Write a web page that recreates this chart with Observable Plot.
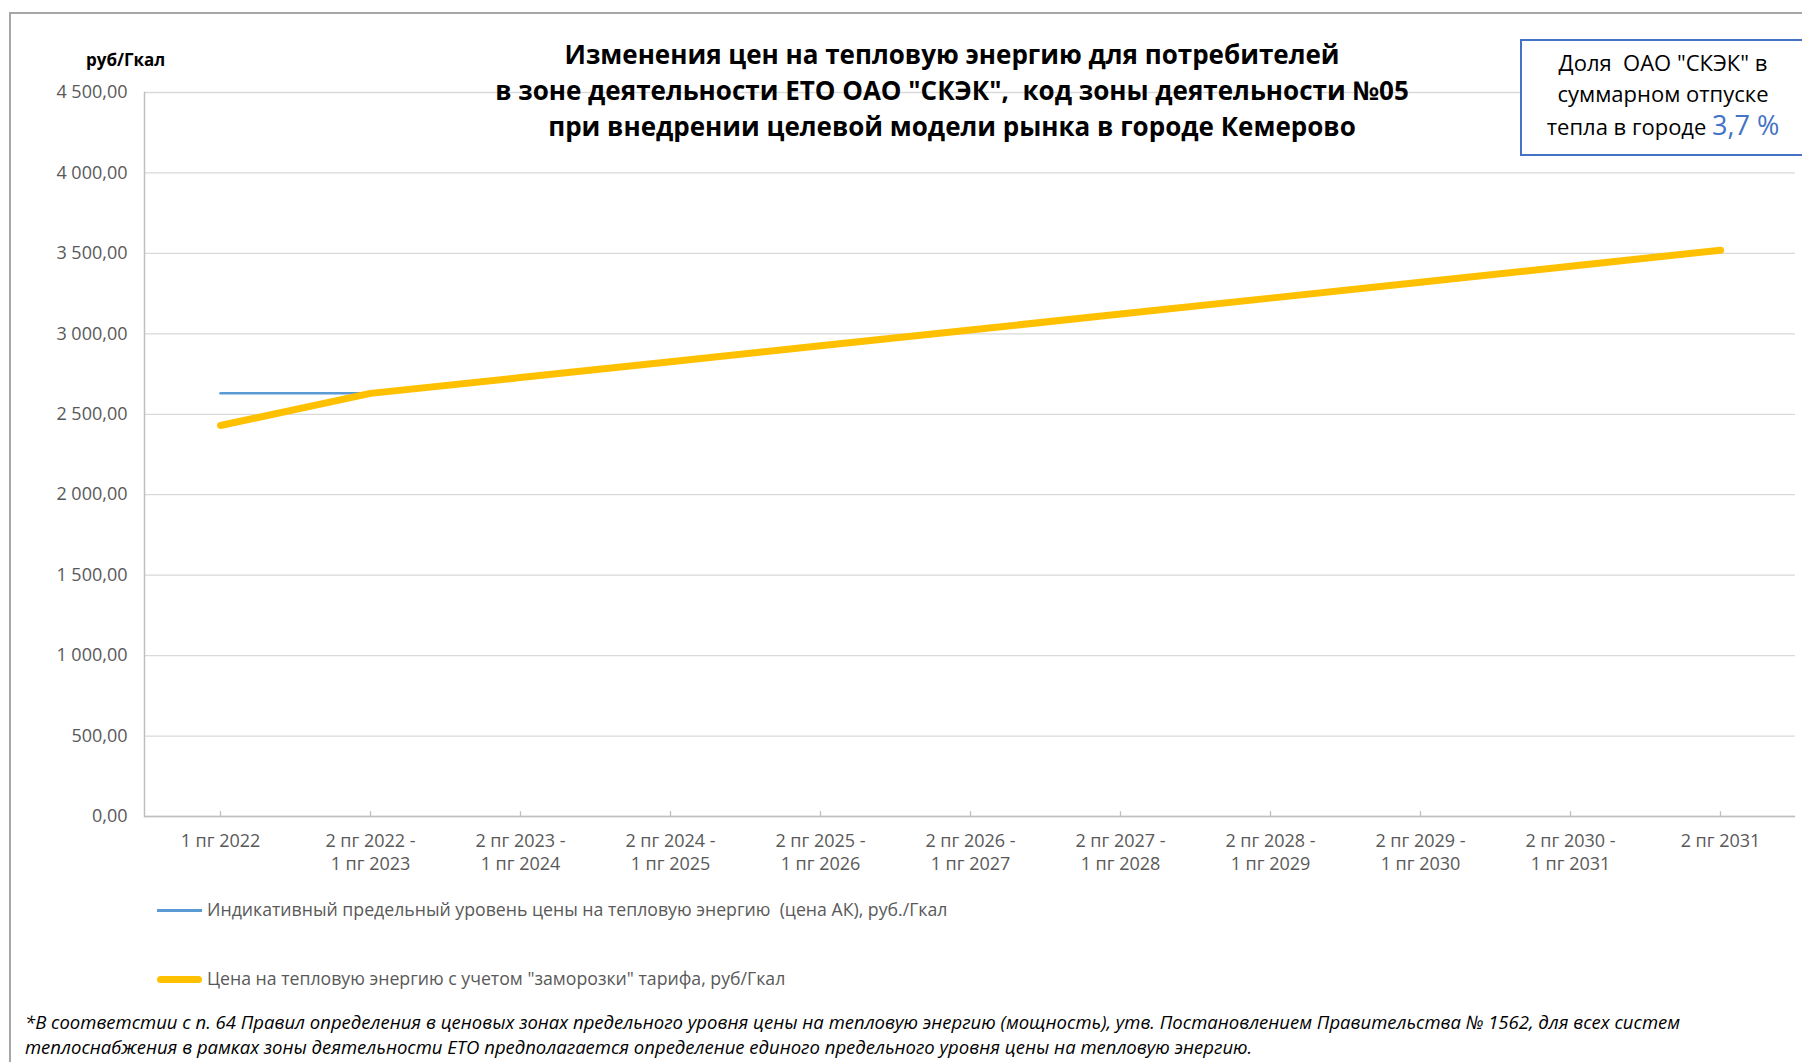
<!DOCTYPE html>
<html>
<head>
<meta charset="utf-8">
<script src="https://cdn.jsdelivr.net/npm/d3@7"></script>
<script src="https://cdn.jsdelivr.net/npm/@observablehq/plot@0.6"></script>
<style>
  html, body { margin: 0; padding: 0; background: #fff; }
  body { width: 1802px; height: 1062px; position: relative; overflow: hidden; font-family: "Open Sans", sans-serif; }
  .abs { position: absolute; }
  #border { left: 9px; top: 12px; width: 2000px; height: 1200px; border-left: 2px solid #a6a6a6; border-top: 2px solid #a6a6a6; }
  #chart { left: 0; top: 0; }
  #title { left: 402px; width: 1100px; top: 36px; text-align: center; font-weight: 700; font-size: 26px; line-height: 36px; color: #000; white-space: nowrap; }
  #ylab { left: 86px; top: 48px; font-weight: 700; font-size: 17px; color: #000; }
  #box { left: 1520px; top: 39px; width: 320px; height: 117px; border: 2px solid #4472C4; box-sizing: border-box; background: #fff; }
  #boxtext { left: 1522px; top: 47px; width: 282px; text-align: center; font-size: 22px; line-height: 31px; color: #000; white-space: nowrap; }
  #boxtext .pct { color: #4472C4; font-size: 27px; }
  .leg { font-size: 17.7px; color: #595959; white-space: nowrap; }
  .legline { position: absolute; left: 157px; width: 45px; }
  #foot { left: 25px; top: 1010px; font-style: italic; font-size: 18.5px; line-height: 24.5px; color: #000; white-space: nowrap; }
</style>
</head>
<body>
<div id="border" class="abs"></div>
<div id="chart" class="abs"></div>
<div id="ylab" class="abs"></div>
<div id="title" class="abs"></div>
<div id="box" class="abs"></div>
<div id="boxtext" class="abs"></div>
<div id="legend1" class="abs leg"></div>
<div id="legend2" class="abs leg"></div>
<div id="foot" class="abs"></div>
<script>
// ---- data ----
const categories = [
  "1 пг 2022",
  "2 пг 2022 - 1 пг 2023",
  "2 пг 2023 - 1 пг 2024",
  "2 пг 2024 - 1 пг 2025",
  "2 пг 2025 - 1 пг 2026",
  "2 пг 2026 - 1 пг 2027",
  "2 пг 2027 - 1 пг 2028",
  "2 пг 2028 - 1 пг 2029",
  "2 пг 2029 - 1 пг 2030",
  "2 пг 2030 - 1 пг 2031",
  "2 пг 2031"
];
const akPrice = [2630, 2630, null, null, null, null, null, null, null, null, null];
const frozenPrice = [2430, 2630, 2728, 2827, 2926, 3024, 3123, 3222, 3321, 3420, 3520];
const yTicks = [0, 500, 1000, 1500, 2000, 2500, 3000, 3500, 4000, 4500];
const seriesNames = [
  "Индикативный предельный уровень цены на тепловую энергию  (цена АК), руб./Гкал",
  "Цена на тепловую энергию с учетом \"заморозки\" тарифа, руб/Гкал"
];
const titleLines = [
  "Изменения цен на тепловую энергию для потребителей",
  "в зоне деятельности ЕТО ОАО \"СКЭК\",  код зоны деятельности №05",
  "при внедрении целевой модели рынка в городе Кемерово"
];
const yAxisLabel = "руб/Гкал";
const shareText = ["Доля  ОАО \"СКЭК\" в", "суммарном отпуске", "тепла в городе"];
const shareValue = "3,7 %";
const footnoteLines = [
  "*В соответстии с п. 64 Правил определения в ценовых зонах предельного уровня цены на тепловую энергию (мощность), утв. Постановлением Правительства № 1562, для всех систем",
  "теплоснабжения в рамках зоны деятельности ЕТО предполагается определение единого предельного уровня цены на тепловую энергию."
];

const rows = categories.map((c, i) => ({cat: c, ak: akPrice[i], frozen: frozenPrice[i]}));
const ru = d3.formatLocale({decimal: ",", thousands: "\u00a0", grouping: [3], currency: ["", " ₽"]});
const fmt = ru.format(",.2f");

const chart = Plot.plot({
  width: 1802,
  height: 900,
  marginTop: 92,
  marginLeft: 144,
  marginRight: 7,
  marginBottom: 84,
  style: {fontFamily: "Open Sans, sans-serif", fontSize: "18px", color: "#595959", background: "transparent"},
  x: {type: "point", domain: categories, padding: 0.5, label: null},
  y: {domain: [0, 4500], label: null},
  marks: [
    Plot.gridY(yTicks, {stroke: "#d9d9d9", strokeOpacity: 1, strokeWidth: 1.3}),
    Plot.axisY(yTicks, {tickSize: 0, tickPadding: 17, tickFormat: fmt, fill: "#595959", fontSize: 18, label: null}),
    Plot.axisX({tickSize: 0, tickPadding: 14, fill: "#595959", fontSize: 18, lineHeight: 1.28,
      tickFormat: d => d.replace(" - ", " -\n"), label: null}),
    Plot.ruleX(categories, {x: d => d, y1: 0, y2: 30, stroke: "#bfbfbf", strokeWidth: 1.3}),
    Plot.frame({anchor: "left", stroke: "#bfbfbf", strokeWidth: 1.5}),
    Plot.ruleY([0], {stroke: "#bfbfbf", strokeWidth: 1.5}),
    Plot.line(rows, {x: "cat", y: "ak", stroke: "#5B9BD5", strokeWidth: 2.5}),
    Plot.line(rows, {x: "cat", y: "frozen", stroke: "#FFC000", strokeWidth: 7, strokeLinecap: "round", strokeLinejoin: "round"})
  ]
});
document.getElementById("chart").appendChild(chart);

document.getElementById("ylab").textContent = yAxisLabel;
document.getElementById("title").innerHTML = titleLines.map(t => `<div>${t.replace(/  /g, " &nbsp;")}</div>`).join("");
document.getElementById("boxtext").innerHTML =
  `<div>${shareText[0].replace(/  /g, " &nbsp;")}</div><div>${shareText[1]}</div><div>${shareText[2]} <span class="pct">${shareValue}</span></div>`;

const l1 = document.getElementById("legend1");
l1.style.left = "207px"; l1.style.top = "897px";
l1.innerHTML = `<span class="legline" style="left:-50px;top:12px;height:2.5px;background:#5B9BD5;"></span>${seriesNames[0].replace(/  /g, " &nbsp;")}`;
const l2 = document.getElementById("legend2");
l2.style.left = "207px"; l2.style.top = "966px";
l2.innerHTML = `<span class="legline" style="left:-50px;top:10px;height:7px;border-radius:4px;background:#FFC000;"></span>${seriesNames[1]}`;
document.getElementById("foot").innerHTML = footnoteLines.map(t => `<div>${t}</div>`).join("");
</script>
</body>
</html>
